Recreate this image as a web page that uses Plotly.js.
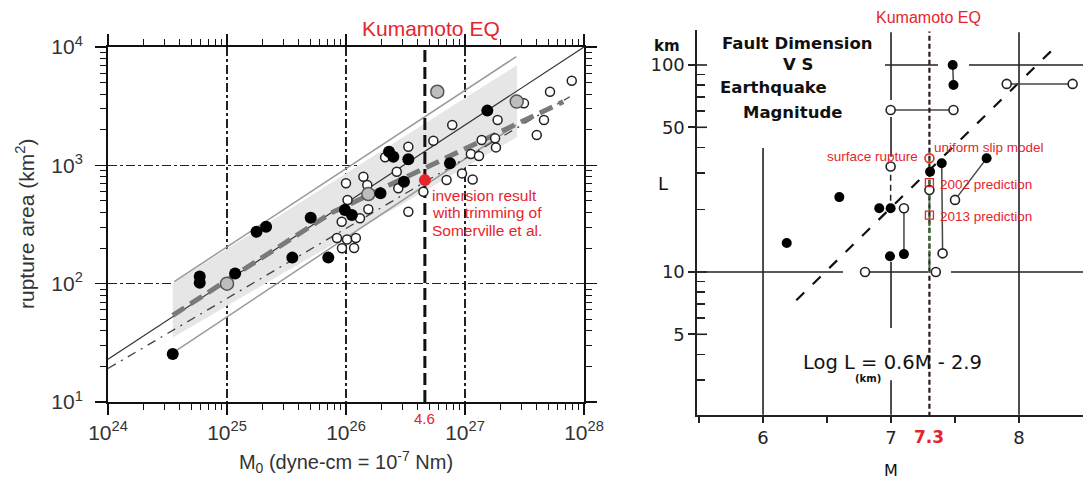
<!DOCTYPE html>
<html><head><meta charset="utf-8">
<script src="https://cdn.plot.ly/plotly-3.0.1.min.js"></script>
<style>html,body{margin:0;padding:0;background:#fff}#plot{width:1083px;height:482px}</style>
</head><body><div id="plot"></div>
<script>
// ---------------- LEFT PANEL DATA (M0 in dyne-cm, area in km^2) ----------------
const filledM0 = [3.5e24, 5.9e24, 5.9e24, 1.17e25, 1.77e25, 2.13e25, 3.54e25, 5.05e25, 7.1e25, 9.8e25, 1.12e26, 1.95e26, 2.3e26, 2.5e26, 3.07e26, 3.34e26, 7.48e26, 1.54e27];
const filledArea = [25.4, 115, 102, 122, 275, 303, 166, 361, 166, 419, 380, 580, 1300, 1180, 728, 1125, 1040, 2900];
const grayM0 = [1.0e25, 1.54e26, 5.85e26, 2.72e27];
const grayArea = [100, 572, 4190, 3455];
const openM0 = [1.0e26, 1.03e26, 9.2e25, 8.4e25, 1.02e26, 1.21e26, 9.25e25, 1.17e26, 1.40e26, 1.51e26, 2.67e26, 3.34e26, 2.13e26, 1.31e26, 1.54e26, 2.75e26, 3.34e26, 4.47e26, 5.42e26, 7.81e26, 7.0e26, 9.44e26, 1.16e27, 1.12e27, 1.31e27, 1.38e27, 1.79e27, 1.82e27, 1.88e27, 5.18e27, 7.89e27, 3.13e27, 4.61e27, 4.01e27];
const openArea = [705, 509, 334, 243, 236, 243, 199, 200, 802, 681, 883, 1436, 1169, 357, 425, 640, 405, 598, 1614, 2193, 752, 855, 759, 1247, 1200, 1637, 1691, 1418, 2416, 4190, 5190, 3340, 2416, 1805];
const kumaM0 = [4.6e26];
const kumaArea = [750];
// scaling lines
const somervilleM0 = [1e24, 1e28];
const somervilleArea = [23, 10000];
const upperM0 = [3.6e24, 2.7e27];
const upperArea = [104, 8300];
const lowerM0 = [3.8e24, 2.7e27];
const lowerArea = [27.5, 2200];
const threeStageM0 = [3.5e24, 7.5e25, 6.7e27];
const threeStageArea = [54, 395, 3450];
const dashDotM0 = [1e24, 7.6e27];
const dashDotArea = [19.2, 3800];
const bandM0 = [3.5e24, 2.74e27, 2.74e27, 3.5e24];
const bandArea = [101, 7050, 1735, 35];
const leftTickVals = [1e24, 1e25, 1e26, 1e27, 1e28];
const leftTickText = ['10<sup>24</sup>', '10<sup>25</sup>', '10<sup>26</sup>', '10<sup>27</sup>', '10<sup>28</sup>'];
const areaTickVals = [10, 100, 1000, 10000];
const areaTickText = ['10<sup>1</sup>', '10<sup>2</sup>', '10<sup>3</sup>', '10<sup>4</sup>'];

// ---------------- RIGHT PANEL DATA (M, L in km) ----------------
const solidM = [7.482, 7.488, 7.747, 7.396, 7.305, 6.596, 6.908, 6.997, 6.185, 6.992, 7.101];
const solidL = [100, 80, 35.4, 33.5, 30.5, 23.0, 20.3, 20.3, 13.8, 11.9, 12.2];
const hollowM = [6.997, 7.488, 7.904, 8.419, 6.997, 7.101, 7.3, 6.797, 7.35, 7.403, 7.5];
const hollowL = [60.6, 60.6, 81, 81, 32.3, 20.3, 24.9, 10, 10, 12.3, 22.3];
const linkM = [[6.997, 7.488], [7.904, 8.419], [7.482, 7.488], [7.747, 7.5], [7.396, 7.403], [7.101, 7.101]];
const linkL = [[60.6, 60.6], [81, 81], [100, 80], [35.4, 22.3], [33.5, 12.3], [20.3, 12.2]];
const dashLinkM = [6.997, 6.997];
const dashLinkL = [29.5, 21.5];
const fitM = [6.26, 8.3];
const fitL = [7.3, 125];
const kumaMag = 7.3;
const surfaceRuptureL = [35.4];
const predictionL = [27.0, 18.8];
const greenL = [35, 10];
const magTickVals = [5.5, 6, 6.5, 7, 7.5, 8];
const magTickText = ['', '6', '', '7', '', '8'];
const lenTickVals = [5, 10, 50, 100];
const lenTickText = ['5', '10', '50', '100'];
// broken grid of the right panel: [M0, M1, L0, L1]
const gridSegs = [
  [6.953, 7.367, 100, 100], [7.609, 8.5, 100, 100],
  [5.484, 6.625, 10, 10], [6.836, 7.289, 10, 10], [7.468, 8.5, 10, 10],
  [6, 6, 39.7, 2.04],
  [7, 7, 144, 67.8], [7, 7, 56.1, 36], [7, 7, 11.2, 5.36], [7, 7, 3.0, 2.04],
  [8, 8, 144, 2.04]
];

// ---------------- helpers ----------------
const W = 1083, H = 482;
const fx = p => p / W, fy = p => 1 - p / H;
const RED = '#e5252c';
const Y2R = [0.309, 2.169];
const y2d = v => (Math.log10(v) - Y2R[0]) / (Y2R[1] - Y2R[0]);
const minorLog = (a, b) => { const v = []; for (let e = a; e < b; e++) for (let k = 2; k <= 9; k++) v.push(k * Math.pow(10, e)); return v; };
const linkX = [], linkY = [];
linkM.forEach((m, i) => { linkX.push(m[0], m[1], null); linkY.push(linkL[i][0], linkL[i][1], null); });

const traces = [
  {x: bandM0, y: bandArea, mode: 'lines', fill: 'toself', fillcolor: '#e6e6e6', line: {width: 0}},
  {x: upperM0, y: upperArea, mode: 'lines', line: {color: '#9a9a9a', width: 1.5}},
  {x: lowerM0, y: lowerArea, mode: 'lines', line: {color: '#9a9a9a', width: 1.5}},
  {x: somervilleM0, y: somervilleArea, mode: 'lines', line: {color: '#333', width: 1.2}},
  {x: dashDotM0, y: dashDotArea, mode: 'lines', line: {color: '#444', width: 1.3, dash: '9px,6px,2px,6px'}},
  {x: threeStageM0, y: threeStageArea, mode: 'lines', line: {color: '#7a7a7a', width: 5, dash: '14px,7px'}},
  {x: [kumaM0[0], kumaM0[0]], y: [10, 10000], mode: 'lines', line: {color: '#111', width: 3, dash: '12px,5px'}},
  {x: openM0, y: openArea, mode: 'markers', marker: {size: 9, color: '#fff', line: {color: '#222', width: 1.5}}},
  {x: grayM0, y: grayArea, mode: 'markers', marker: {size: 13, color: '#bdbdbd', line: {color: '#555', width: 1.5}}},
  {x: filledM0, y: filledArea, mode: 'markers', marker: {size: 12, color: '#000'}},
  {x: kumaM0, y: kumaArea, mode: 'markers', marker: {size: 12, color: RED}},
  // right panel
  {x: fitM, y: fitL, xaxis: 'x2', yaxis: 'y2', mode: 'lines', line: {color: '#111', width: 2.2, dash: '11px,12px'}},
  {x: linkX, y: linkY, xaxis: 'x2', yaxis: 'y2', mode: 'lines', line: {color: '#444', width: 1.5}, connectgaps: false},
  {x: dashLinkM, y: dashLinkL, xaxis: 'x2', yaxis: 'y2', mode: 'lines', line: {color: '#222', width: 1.5, dash: '6px,4px'}},
  {x: [kumaMag, kumaMag], y: [2, 145], xaxis: 'x2', yaxis: 'y2', mode: 'lines', line: {color: '#2a1a1a', width: 2.2, dash: '5px,3px'}},
  {x: [kumaMag, kumaMag], y: greenL, xaxis: 'x2', yaxis: 'y2', mode: 'lines', line: {color: '#2e7d32', width: 2, dash: '4px,3px'}},
  {x: hollowM, y: hollowL, xaxis: 'x2', yaxis: 'y2', mode: 'markers', marker: {size: 9, color: '#fff', line: {color: '#222', width: 1.6}}},
  {x: solidM, y: solidL, xaxis: 'x2', yaxis: 'y2', mode: 'markers', marker: {size: 10, color: '#000'}},
  {x: [kumaMag], y: surfaceRuptureL, xaxis: 'x2', yaxis: 'y2', mode: 'markers', marker: {size: 9, color: 'rgba(0,0,0,0)', line: {color: RED, width: 1.6}}},
  {x: [kumaMag, kumaMag], y: predictionL, xaxis: 'x2', yaxis: 'y2', mode: 'markers', marker: {symbol: 'square-open', size: 8, color: RED, line: {width: 1.3}}}
];

const shapes = gridSegs.map(s => ({type: 'line', xref: 'x2', yref: 'y2 domain', x0: s[0], x1: s[1], y0: y2d(s[2]), y1: y2d(s[3]), line: {color: '#222', width: 1.6}, layer: 'below'}));
// major ticks on right panel y axis also crossing inward
lenTickVals.forEach(v => shapes.push({type: 'line', xref: 'paper', yref: 'y2 domain', x0: fx(697), x1: fx(707), y0: y2d(v), y1: y2d(v), line: {color: '#222', width: 1.6}}));

const ann = (x, y, text, size, color, family, opts = {}) => Object.assign({xref: 'paper', yref: 'paper', x: fx(x), y: fy(y), text, showarrow: false, font: {size, color, family}, xanchor: 'center', yanchor: 'middle'}, opts);
const AR = 'Liberation Sans, Arial, sans-serif', DJ = 'DejaVu Sans, sans-serif';
const annotations = [
  ann(25, 224, 'rupture area (km<sup>2</sup>)', 21, '#333', AR, {textangle: -90}),
  ann(431, 28, 'Kumamoto EQ', 21, RED, AR),
  ann(425, 418, '4.6', 15, RED, AR),
  ann(430, 195, 'inversion result', 15.5, RED, AR, {xanchor: 'left'}),
  ann(430, 212.5, 'with trimming of', 15.5, RED, AR, {xanchor: 'left'}),
  ann(430, 230, 'Somerville et al.', 15.5, RED, AR, {xanchor: 'left'}),
  ann(928, 18, 'Kumamoto EQ', 16, RED, AR),
  ann(797, 43, '<b>Fault Dimension</b>', 16.5, '#111', DJ),
  ann(798, 65, '<b>V S</b>', 16.5, '#111', DJ),
  ann(773, 87, '<b>Earthquake</b>', 16.5, '#111', DJ),
  ann(792, 112, '<b>Magnitude</b>', 16.5, '#111', DJ),
  ann(667, 46, '<b>km</b>', 15, '#111', DJ),
  ann(663, 183, 'L', 18, '#111', DJ),
  ann(891, 470, 'M', 16, '#111', DJ),
  ann(929, 437, '<b>7.3</b>', 17, RED, DJ),
  ann(892, 362, 'Log L = 0.6M - 2.9', 19.5, '#111', DJ),
  ann(868, 378, '<b>(km)</b>', 10, '#111', DJ),
  ann(920, 157, 'surface rupture', 13.5, RED, AR, {xanchor: 'right'}),
  ann(932, 147, 'uniform slip model', 13.5, RED, AR, {xanchor: 'left'}),
  ann(938, 184, '2002 prediction', 13.5, RED, AR, {xanchor: 'left'}),
  ann(938, 217, '2013 prediction', 13.5, RED, AR, {xanchor: 'left'})
];

const layout = {
  width: W, height: H, margin: {l: 0, r: 0, t: 0, b: 0}, showlegend: false,
  paper_bgcolor: '#fff', plot_bgcolor: 'rgba(0,0,0,0)',
  font: {family: AR, color: '#333'},
  xaxis: {type: 'log', range: [24, 28], domain: [fx(108), fx(584)], anchor: 'y',
    showline: true, linewidth: 2, linecolor: '#111', mirror: 'ticks', ticks: 'outside', ticklen: 11, tickwidth: 1.5, tickcolor: '#111',
    tickmode: 'array', tickvals: leftTickVals, ticktext: leftTickText, tickfont: {size: 21, color: '#333'},
    showgrid: true, gridcolor: '#222', griddash: 'dashdot', gridwidth: 1.3, zeroline: false,
    minor: {tickmode: 'array', tickvals: minorLog(24, 28), ticks: 'outside', ticklen: 6, tickwidth: 1, tickcolor: '#111', showgrid: false},
    title: {text: 'M<sub>0</sub> (dyne-cm = 10<sup>-7</sup> Nm)', font: {size: 20, color: '#333'}, standoff: 12}},
  yaxis: {type: 'log', range: [1, 4], domain: [fy(402), fy(47)], anchor: 'x',
    showline: true, linewidth: 2, linecolor: '#111', mirror: 'ticks', ticks: 'outside', ticklen: 11, tickwidth: 1.5, tickcolor: '#111',
    tickmode: 'array', tickvals: areaTickVals, ticktext: areaTickText, tickfont: {size: 21, color: '#333'}, ticklabelstandoff: 8,
    showgrid: true, gridcolor: '#222', griddash: 'dashdot', gridwidth: 1.3, zeroline: false,
    minor: {tickmode: 'array', tickvals: minorLog(1, 4), ticks: 'outside', ticklen: 6, tickwidth: 1, tickcolor: '#111', showgrid: false}},
  xaxis2: {range: [5.484, 8.5], domain: [fx(697), 1], anchor: 'y2',
    showline: true, linewidth: 1.6, linecolor: '#222', mirror: false, ticks: 'outside', ticklen: 6, tickwidth: 1.5, tickcolor: '#222',
    tickmode: 'array', tickvals: magTickVals, ticktext: magTickText, tickfont: {size: 18, color: '#222', family: DJ},
    showgrid: false, zeroline: false},
  yaxis2: {type: 'log', range: Y2R, domain: [fy(415), fy(30)], anchor: 'x2',
    showline: true, linewidth: 1.6, linecolor: '#222', mirror: false, ticks: 'outside', ticklen: 7, tickwidth: 1.6, tickcolor: '#222',
    tickmode: 'array', tickvals: lenTickVals, ticktext: lenTickText, tickfont: {size: 18, color: '#222', family: DJ},
    minor: {tickmode: 'array', tickvals: [3, 4, 6, 7, 8, 9, 20, 30, 40, 60, 70, 80, 90], ticks: 'inside', ticklen: 8, tickwidth: 1.5, tickcolor: '#222', showgrid: false},
    showgrid: false, zeroline: false},
  shapes, annotations
};
traces.forEach(t => { if (!t.xaxis) { t.xaxis = 'x'; t.yaxis = 'y'; } t.hoverinfo = 'skip'; });
Plotly.newPlot('plot', traces, layout, {displayModeBar: false, staticPlot: true});
</script></body></html>
